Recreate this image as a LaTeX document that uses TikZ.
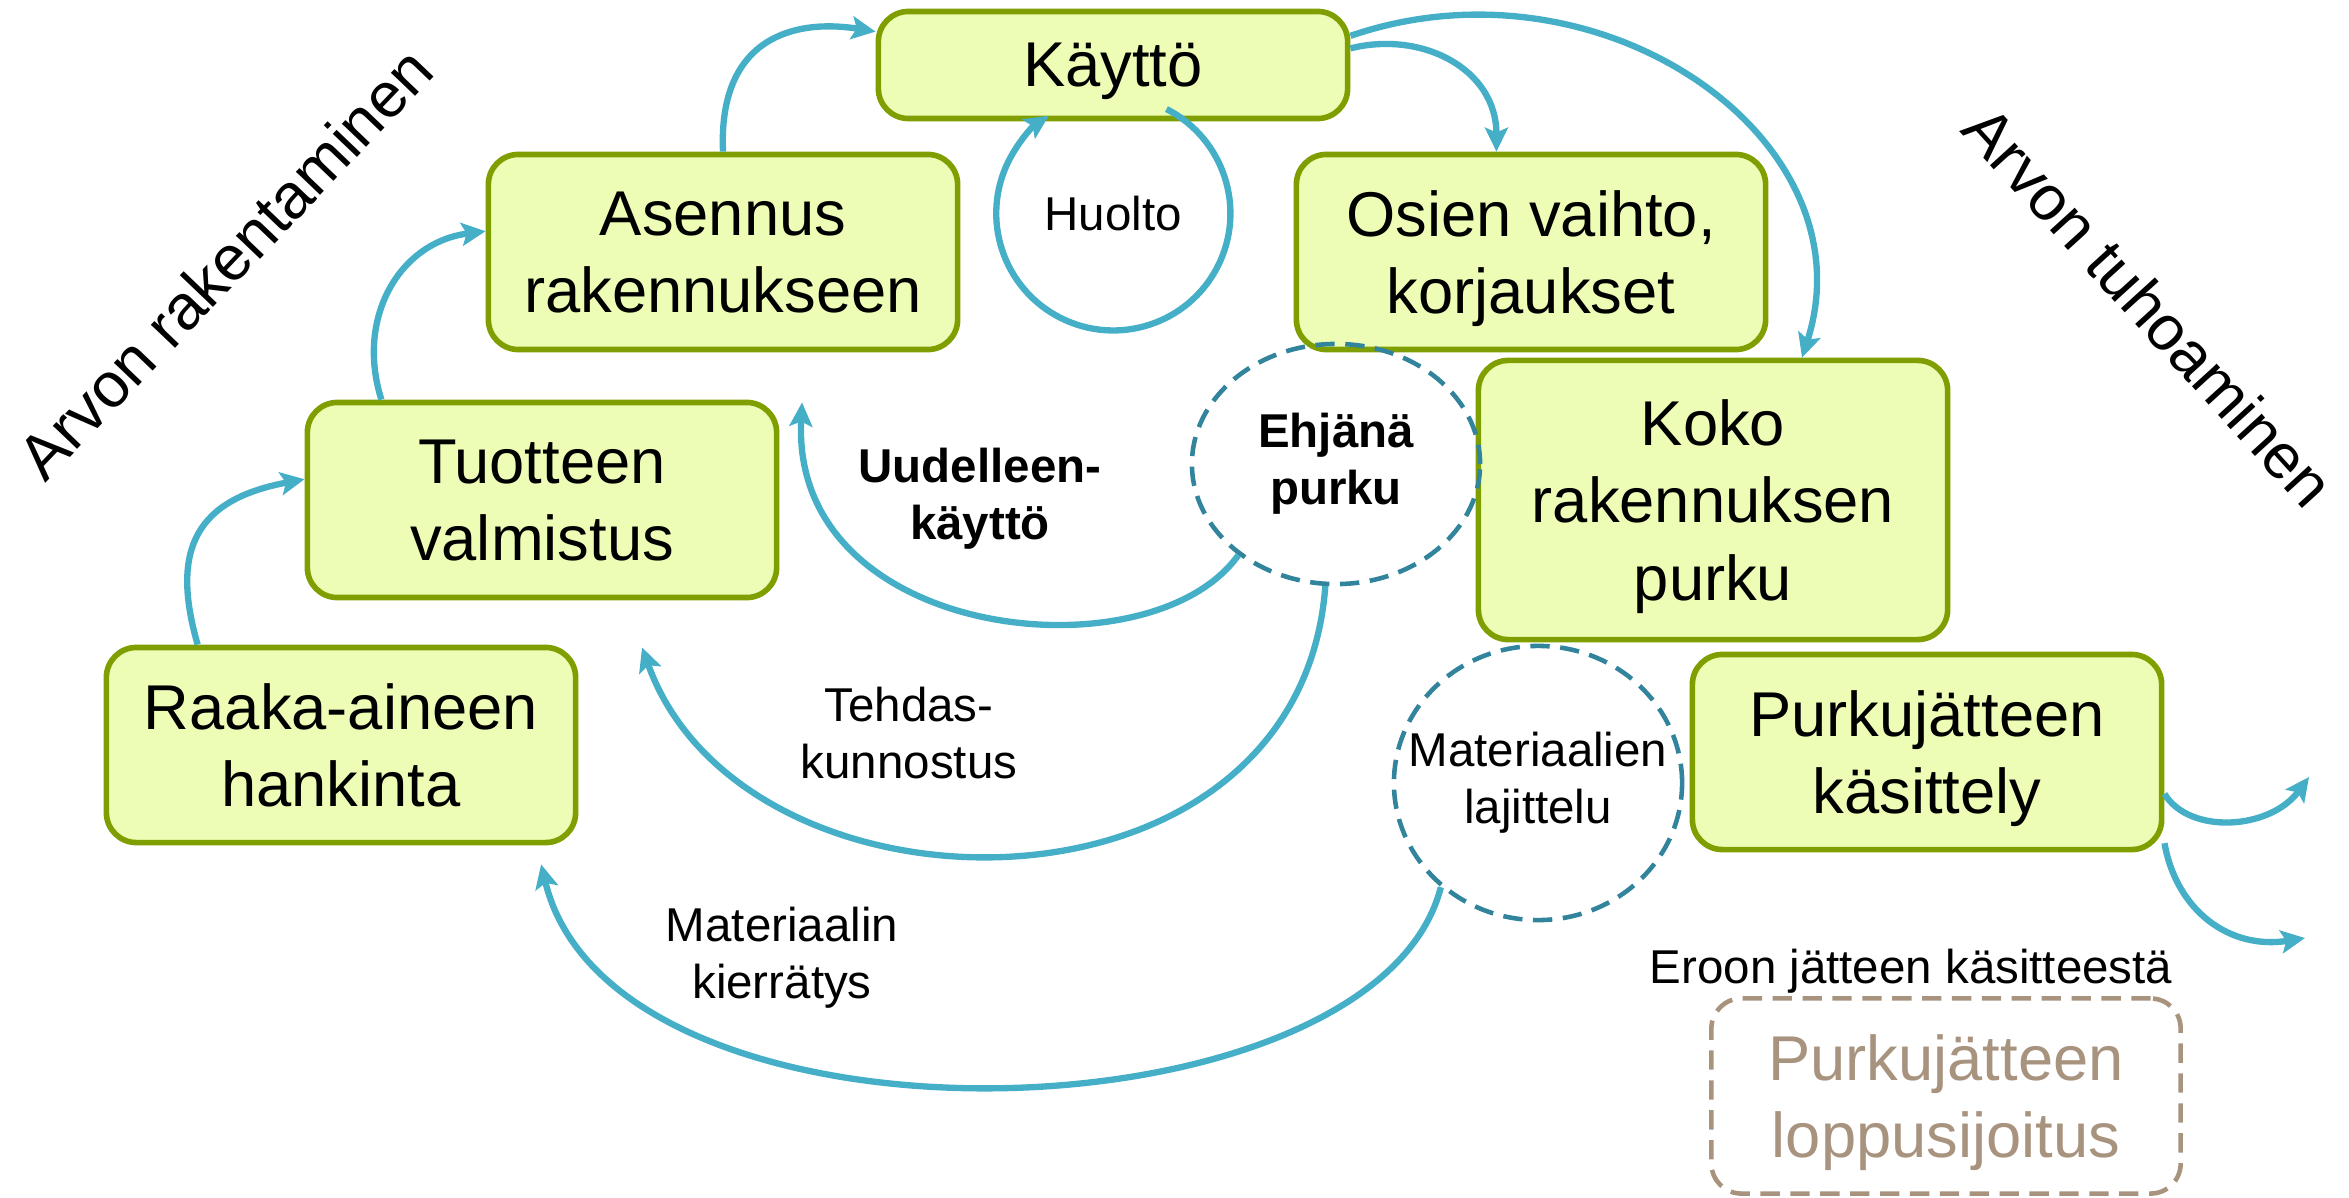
\documentclass[tikz,border=0pt]{standalone}
\usepackage{fontspec}
\setmainfont{Liberation Sans}
\usetikzlibrary{arrows.meta,shapes.geometric}
\definecolor{boxfill}{HTML}{EDFDB6}
\definecolor{boxline}{HTML}{7F9F00}
\definecolor{flowblue}{HTML}{45AFC8}
\definecolor{sortteal}{HTML}{31849B}
\definecolor{wastetan}{HTML}{A8937F}
\newcommand{\stagefont}{\fontsize{18}{22}\selectfont}
\newcommand{\notefont}{\fontsize{13.5}{16.2}\selectfont}

\begin{document}
\begin{tikzpicture}[x=0.01cm,y=0.01cm,>={Stealth[length=0.24cm,width=0.23cm,inset=0.05cm]},
  stage/.style={rectangle,rounded corners=0.3cm,draw=boxline,fill=boxfill,
    line width=1.6pt,minimum width=4.69cm,minimum height=1.95cm,
    align=center,text depth=0pt,font=\stagefont},
  sorting/.style={ellipse,draw=sortteal,line width=1.3pt,
    dash pattern=on 5.5pt off 3pt,inner sep=0pt},
  notetext/.style={align=center,font=\notefont},
  phasetext/.style={font=\fontsize{18}{22}\selectfont},
  flowline/.style={->,draw=flowblue,line width=1.8pt}]

  \useasboundingbox (0,0) rectangle (2349,-1197);

  % stages
  \node[stage,minimum height=1.07cm] (kaytto) at (1113,-65) {Käyttö};
  \node[stage] (asennus) at (723,-252) {Asennus\\rakennukseen};
  \node[stage] (osien) at (1531,-252) {Osien vaihto,\\korjaukset};
  \node[stage] (tuotteen) at (542,-500) {Tuotteen\\valmistus};
  \node[stage,minimum height=2.79cm] (koko) at (1713,-500) {Koko\\rakennuksen\\purku};
  \node[stage] (raaka) at (341,-745) {Raaka-aineen\\hankinta};
  \node[stage] (purkukas) at (1927,-752) {Purkujätteen\\käsittely};
  \node[stage,draw=wastetan,fill=none,text=wastetan,line width=1.3pt,
        dash pattern=on 5.5pt off 3pt] (loppu) at (1946,-1096) {Purkujätteen\\loppusijoitus};

  % dashed sorting circles
  \node[sorting,minimum width=2.88cm,minimum height=2.4cm] (ehjana) at (1336,-464) {};
  \node[notetext,font=\notefont\bfseries] (ehjanatext) at (ehjana) {Ehjänä\\purku};
  \node[sorting,minimum width=2.88cm,minimum height=2.74cm] (lajittelu) at (1538,-783) {};
  \node[notetext] (lajittelutext) at (lajittelu) {Materiaalien\\lajittelu};

  % loop labels
  \node[circle,minimum size=2.34cm,inner sep=0pt] (huolto) at (1113,-214) {};
  \node[notetext] (huoltotext) at (huolto) {Huolto};
  \node[notetext,font=\notefont\bfseries] (uudelleen) at (980,-499) {Uudelleen-\\käyttö};
  \node[notetext] (tehdas) at (909,-733) {Tehdas-\\kunnostus};
  \node[notetext] (kierratys) at (782,-958) {Materiaalin\\kierrätys};
  \node[notetext] (eroon) at (1911,-971) {Eroon jätteen käsitteestä};

  % phases
  \node[phasetext,rotate=46.3] (rakentaminen) at (225,-263) {Arvon rakentaminen};
  \node[phasetext,rotate=-47.7] (tuhoaminen) at (2149,-306) {Arvon tuhoaminen};

  \coordinate (exitA) at (2309,-777);
  \coordinate (exitB) at (2305,-938);

  % flows
  \draw[flowline] (raaka.145) .. controls +(-28,97) and +(-107,-20) .. (tuotteen.175);
  \draw[flowline] (tuotteen.148) .. controls +(-26,82) and +(-86,-11) .. (asennus.175);
  \draw[flowline] (asennus.north) .. controls +(-5,115) and +(-80,13) .. (kaytto.172);
  \draw[flowline] (kaytto.4) .. controls +(71,18) and +(0,83) .. (osien.109);
  \draw[flowline] (kaytto.7) .. controls +(251,86) and +(70,218) .. (koko.58);
  \draw[flowline] (huolto.63) arc[start angle=63,end angle=-236.5,radius=1.17cm];
  \draw[flowline] (ehjana.223) .. controls +(-87,-123) and +(-12,-240)
    .. ([xshift=0.79cm,yshift=-0.5cm]asennus.south);
  \draw[flowline] (ehjana.265) .. controls +(-26,-349) and +(102,-285)
    .. ([xshift=1cm,yshift=-0.47cm]tuotteen.south);
  \draw[flowline] (lajittelu.227) .. controls +(-66,-258) and +(73,-303)
    .. ([xshift=2cm,yshift=-0.19cm]raaka.south);
  \draw[flowline] (purkukas.-10) .. controls +(25,-41) and +(-39,-53) .. (exitA);
  \draw[flowline] (purkukas.-21) .. controls +(12,-68) and +(-75,-12) .. (exitB);
\end{tikzpicture}
\end{document}
